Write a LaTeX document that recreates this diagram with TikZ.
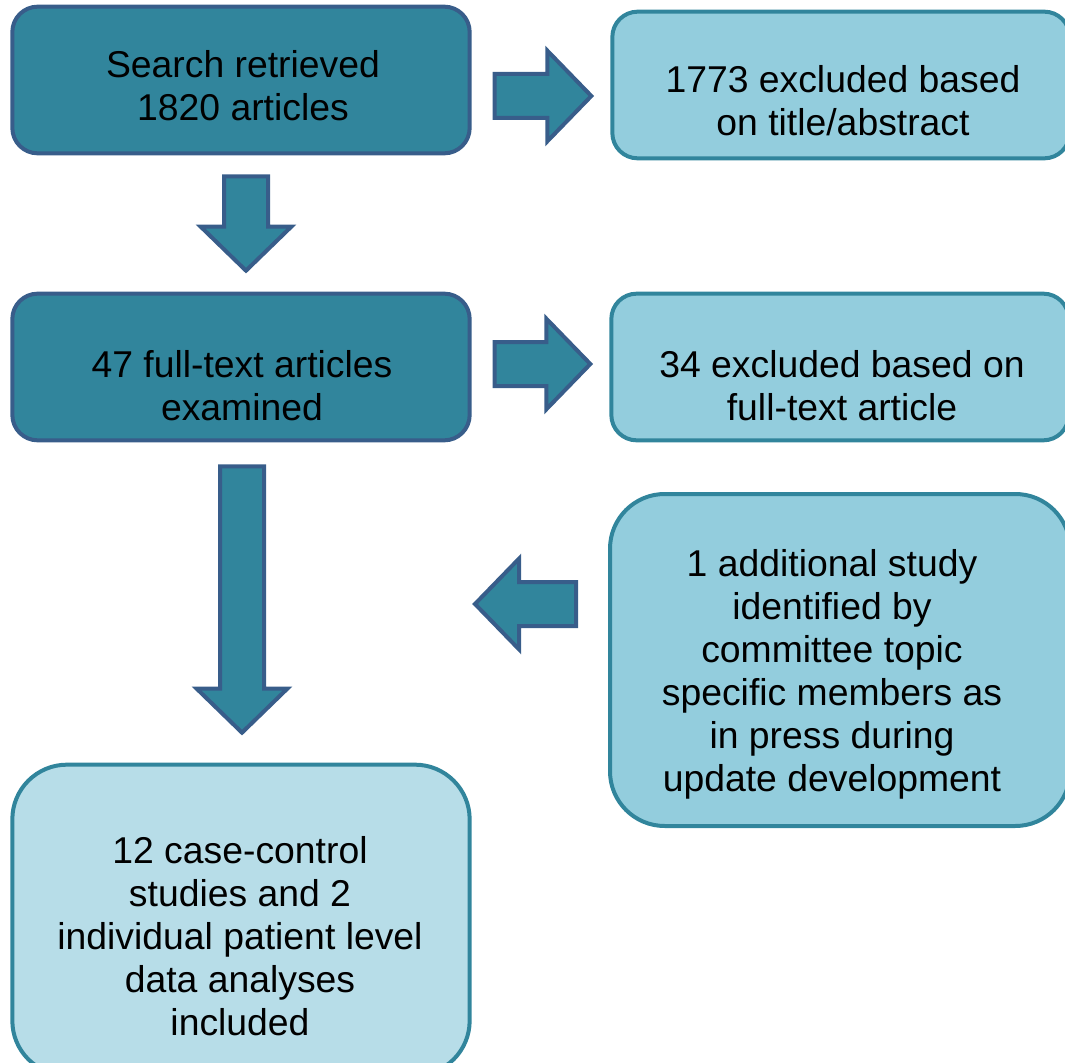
\documentclass[tikz,border=0pt]{standalone}
\usepackage{fontspec}
\setmainfont{Liberation Sans}
\usetikzlibrary{calc}
\definecolor{tealfill}{RGB}{49,133,156}
\definecolor{navyline}{RGB}{56,93,138}
\definecolor{paleblue}{RGB}{147,205,221}
\definecolor{palerblue}{RGB}{183,221,232}
\tikzset{
  darkbox/.style={draw=navyline,fill=tealfill,line width=3pt,rounded corners=19pt,
    minimum width=343pt,minimum height=110pt},
  lightbox/.style={draw=tealfill,fill=paleblue,line width=3pt,rounded corners=19pt,
    minimum width=343pt,minimum height=110pt},
  boxtext/.style={align=center,font=\fontsize{28}{32.25}\selectfont},
  blockarrow/.style={draw=navyline,fill=tealfill,line width=3pt,line join=miter}
}
% block arrow from #1 to #2
\newcommand{\blockarr}[2]{%
  \coordinate (hb) at ($(#2)!33pt!(#1)$);
  \draw[blockarrow] ($(#1)!16.5pt!90:(#2)$) -- ($(hb)!16.5pt!90:(#2)$)
    -- ($(hb)!34pt!90:(#2)$) -- (#2) -- ($(hb)!34pt!-90:(#2)$)
    -- ($(hb)!16.5pt!-90:(#2)$) -- ($(#1)!16.5pt!-90:(#2)$) -- cycle;}

\begin{document}
\begin{tikzpicture}[x=0.75pt,y=-0.75pt]
\clip (0,0) rectangle (1065,1063);
% boxes
\node[darkbox] (search) at (241,80) {};
\node[lightbox] (excl1) at (841,85) {};
\node[darkbox] (full) at (241,367) {};
\node[lightbox] (excl2) at (840,367) {};
\node[lightbox,minimum width=345pt,minimum height=249pt,rounded corners=41pt] (extra) at (840,660) {};
\node[lightbox,fill=palerblue,minimum width=343pt,minimum height=233pt,rounded corners=41pt] (final) at (241,920) {};
% labels
\node[boxtext] (search-t) at ([shift={(2,6)}]search.center) {Search retrieved\\1820 articles};
\node[boxtext] (excl1-t) at ([shift={(2,16)}]excl1.center) {1773 excluded based\\on title/abstract};
\node[boxtext] (full-t) at ([shift={(1,19)}]full.center) {47 full-text articles\\examined};
\node[boxtext] (excl2-t) at ([shift={(2,19)}]excl2.center) {34 excluded based on\\full-text article};
\node[boxtext] (extra-t) at ([shift={(-8,14)}]extra.center) {1 additional study\\identified by\\committee topic\\specific members as\\in press during\\update development};
\node[boxtext] (final-t) at ([shift={(-1,16)}]final.center) {12 case-control\\studies and 2\\individual patient level\\data analyses\\included};
% arrows
\coordinate (r1a) at ([shift={(23,16)}]search.east);
\coordinate (r1b) at ([shift={(-19,11)}]excl1.west);
\coordinate (d1a) at ([shift={(5,21)}]search.south);
\coordinate (d1b) at ([shift={(5,-21)}]full.north);
\coordinate (r2a) at ([shift={(23,-3)}]full.east);
\coordinate (r2b) at ([shift={(-19,-3)}]excl2.west);
\coordinate (d2a) at ([shift={(1,24)}]full.south);
\coordinate (d2b) at ([shift={(1,-30)}]final.north);
\coordinate (l1a) at ([shift={(-32,-56)}]extra.west);
\coordinate (l1b) at ([shift={(-133,-56)}]extra.west);
\blockarr{r1a}{r1b}
\blockarr{d1a}{d1b}
\blockarr{r2a}{r2b}
\blockarr{d2a}{d2b}
\blockarr{l1a}{l1b}
\end{tikzpicture}
\end{document}
